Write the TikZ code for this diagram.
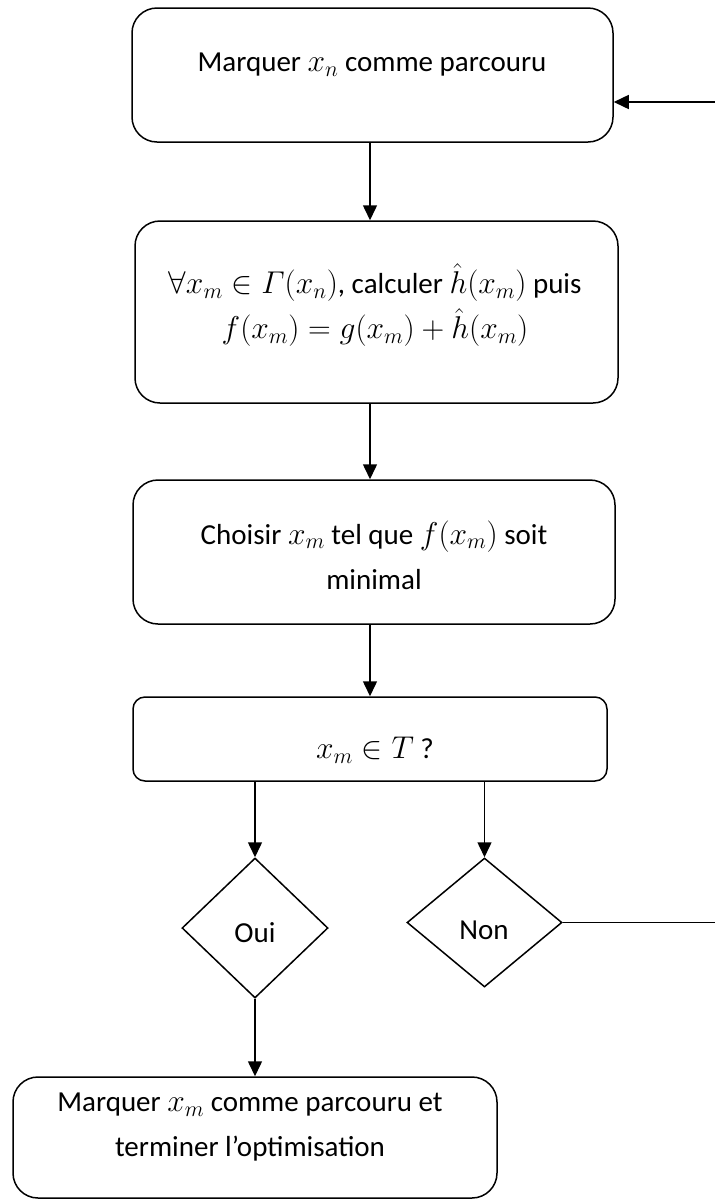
\RequirePackage{fix-cm}
\documentclass[tikz,border=0pt]{standalone}
\usepackage{amsmath}
\usepackage{fontspec}
\setmainfont{Carlito}
\usetikzlibrary{arrows.meta,shapes.geometric}
% slightly larger formulas next to the 29pt text
\DeclareMathSizes{29}{31.5}{22}{16}

\tikzset{
  box/.style={draw, line width=1.5pt, rounded corners=25pt, inner sep=0pt},
  txt/.style={font=\fontsize{29}{45}\selectfont, align=center, inner sep=0pt},
  decision/.style={draw, diamond, line width=1.5pt, inner sep=0pt},
  link/.style={line width=1.5pt},
  flow/.style={line width=1.5pt, -{Triangle[length=15pt,width=14pt]}}
}

\begin{document}
\begin{tikzpicture}[x=1pt,y=-1pt]
\useasboundingbox (0,0) rectangle (715,1200);

% process boxes
\node[box, minimum width=481pt, minimum height=134pt] (b1) at (372.5,75) {};
\node[box, minimum width=483pt, minimum height=182pt] (b2) at (376.5,312) {};
\node[box, minimum width=482pt, minimum height=144pt] (b3) at (374,552) {};
\node[box, rounded corners=12pt, minimum width=474pt, minimum height=84pt] (b4) at (370,739) {};
\node[box, minimum width=484pt, minimum height=121pt] (b5) at (255,1137.5) {};

% box texts
\node[txt] (t1) at (372,65) {Marquer $x_n$ comme parcouru};
\node[txt] (t2) at (375,305) {$\forall x_m \in \varGamma(x_n)$, calculer $\hat{h}(x_m)$ puis\\
  $f(x_m) = g(x_m) + \hat{h}(x_m)$};
\node[txt] (t3) at (374,555) {Choisir $x_m$ tel que $f(x_m)$ soit\\minimal};
\node[txt] (t4) at (375,750) {$x_m \in T$ ?};
\node[txt] (t5) at (250,1127) {Marquer $x_m$ comme parcouru et\\terminer l’optimisation};

% decisions
\node[decision, minimum width=146pt, minimum height=140pt] (oui) at (255,928) {};
\node[decision, minimum width=155pt, minimum height=129pt] (non) at (484.5,922.5) {};
\node[txt] (ouit) at (255,933) {Oui};
\node[txt] (nont) at (484,930) {Non};

% loose ends of the loop back
\coordinate (edge) at (715,922.5);
\coordinate (back) at (715,102);

% connectors
\draw[flow] (b1.south -| 370,0) -- (370,0 |- b2.north);
\draw[flow] (b2.south -| 370,0) -- (370,0 |- b3.north);
\draw[flow] (b3.south -| 370,0) -- (370,0 |- b4.north);
\draw[flow] (oui.north |- b4.south) -- (oui.north);
\draw[flow] (non.north |- b4.south) -- (non.north);
\draw[flow] (oui.south) -- (oui.south |- b5.north);
\draw[link] (non.east) -- (edge);
\draw[flow] (back) -- (back -| b1.east);
\end{tikzpicture}
\end{document}
